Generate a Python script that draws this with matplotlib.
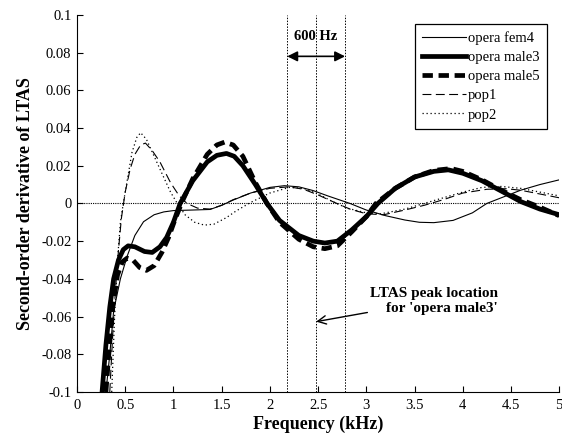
"""
Second-order derivative of LTAS for opera and pop singers.
"""
import matplotlib
matplotlib.use('Agg')
import matplotlib.pyplot as plt
from matplotlib import rcParams
from matplotlib.ticker import FuncFormatter

rcParams['font.family'] = 'Liberation Serif'
rcParams['font.size'] = 10
rcParams['axes.unicode_minus'] = False

# curves (kHz, value)
fem4_x = [0.30, 0.34, 0.38, 0.45, 0.52, 0.60, 0.69, 0.80, 0.90, 1.00, 1.20, 1.38, 1.50,
          1.62, 1.80, 2.00, 2.15, 2.30, 2.45, 2.60, 2.83, 3.00, 3.20, 3.40, 3.55, 3.70,
          3.90, 4.10, 4.25, 4.40, 4.60, 4.80, 5.00]
fem4_y = [-0.100, -0.080, -0.057, -0.040, -0.028, -0.017, -0.0097, -0.006, -0.0045, -0.0038,
          -0.0035, -0.0032, -0.001, 0.0018, 0.0055, 0.0085, 0.0094, 0.0088, 0.0068, 0.0040,
          0.0, -0.0035, -0.0065, -0.0088, -0.0100, -0.0102, -0.0090, -0.0050, 0.0, 0.0030,
          0.0070, 0.0100, 0.0125]

male3_x = [0.26, 0.30, 0.34, 0.38, 0.43, 0.48, 0.53, 0.60, 0.70, 0.78, 0.86, 0.93, 1.00,
           1.07, 1.20, 1.35, 1.45, 1.55, 1.63, 1.72, 1.85, 1.97, 2.10, 2.30, 2.45, 2.57,
           2.70, 2.85, 3.00, 3.12, 3.30, 3.50, 3.70, 3.85, 4.00, 4.20, 4.42, 4.60, 4.80, 5.00]
male3_y = [-0.100, -0.075, -0.055, -0.040, -0.030, -0.0245, -0.0225, -0.023, -0.0255, -0.026,
           -0.023, -0.018, -0.010, 0.0, 0.012, 0.022, 0.0255, 0.0265, 0.025, 0.020, 0.010,
           0.0, -0.009, -0.017, -0.020, -0.021, -0.020, -0.014, -0.007, 0.0, 0.008, 0.014,
           0.017, 0.0178, 0.016, 0.012, 0.006, 0.001, -0.003, -0.006]

male5_x = [0.30, 0.33, 0.37, 0.42, 0.47, 0.52, 0.58, 0.65, 0.72, 0.80, 0.88, 0.95, 1.02,
           1.10, 1.20, 1.35, 1.45, 1.53, 1.62, 1.72, 1.85, 1.97, 2.10, 2.30, 2.45, 2.57,
           2.70, 2.85, 3.00, 3.10, 3.30, 3.50, 3.70, 3.88, 4.00, 4.20, 4.40, 4.60, 4.80, 5.00]
male5_y = [-0.100, -0.080, -0.055, -0.038, -0.031, -0.029, -0.030, -0.034, -0.0355, -0.033,
           -0.026, -0.018, -0.008, 0.002, 0.013, 0.026, 0.031, 0.0325, 0.031, 0.025, 0.011,
           0.0, -0.010, -0.019, -0.023, -0.024, -0.0225, -0.015, -0.007, 0.0, 0.008, 0.014,
           0.0175, 0.0185, 0.017, 0.0125, 0.007, 0.002, -0.002, -0.0065]

pop1_x = [0.34, 0.37, 0.40, 0.43, 0.46, 0.50, 0.55, 0.60, 0.66, 0.71, 0.78, 0.86, 0.97,
          1.06, 1.14, 1.25, 1.38, 1.50, 1.62, 1.80, 2.00, 2.20, 2.35, 2.50, 2.65, 2.83,
          3.00, 3.18, 3.40, 3.60, 3.80, 4.00, 4.25, 4.45, 4.60, 4.80, 5.00]
pop1_y = [-0.100, -0.070, -0.045, -0.025, -0.008, 0.006, 0.018, 0.026, 0.031, 0.032, 0.028,
          0.022, 0.011, 0.004, 0.0, -0.0025, -0.003, -0.001, 0.002, 0.0055, 0.008, 0.0088,
          0.0075, 0.0045, 0.001, -0.003, -0.0055, -0.006, -0.0035, -0.001, 0.002, 0.0055,
          0.0075, 0.0078, 0.007, 0.005, 0.003]

pop2_x = [0.36, 0.39, 0.42, 0.45, 0.48, 0.52, 0.57, 0.62, 0.66, 0.72, 0.80, 0.88, 0.97,
          1.04, 1.12, 1.22, 1.32, 1.42, 1.55, 1.65, 1.80, 2.00, 2.20, 2.35, 2.50, 2.65,
          2.80, 3.00, 3.15, 3.40, 3.60, 3.80, 4.00, 4.20, 4.40, 4.60, 4.80, 5.00]
pop2_y = [-0.100, -0.060, -0.030, -0.010, 0.0, 0.012, 0.027, 0.035, 0.0375, 0.034, 0.025,
          0.016, 0.006, 0.0, -0.006, -0.010, -0.0115, -0.011, -0.0075, -0.004, 0.0005, 0.0055,
          0.0085, 0.008, 0.005, 0.001, -0.0025, -0.005, -0.0055, -0.003, 0.0, 0.003, 0.006,
          0.0085, 0.009, 0.008, 0.006, 0.004]

band_lines = [2.18, 2.48, 2.78]
x_ticks = [0, 0.5, 1, 1.5, 2, 2.5, 3, 3.5, 4, 4.5, 5]
y_ticks = [-0.1, -0.08, -0.06, -0.04, -0.02, 0, 0.02, 0.04, 0.06, 0.08, 0.1]

fig = plt.figure(figsize=(5.62, 4.37), dpi=100)
ax = fig.add_axes([0.137, 0.103, 0.858, 0.863])

ax.plot(fem4_x, fem4_y, color='black', lw=0.8, label='opera fem4')
ax.plot(male3_x, male3_y, color='black', lw=3.4, label='opera male3')
ax.plot(male5_x, male5_y, color='black', lw=3.4, linestyle=(0, (2.2, 1.2)), label='opera male5')
ax.plot(pop1_x, pop1_y, color='black', lw=0.8, linestyle=(0, (8, 4)), label='pop1')
ax.plot(pop2_x, pop2_y, color='black', lw=0.9, linestyle=(0, (1, 2.2)), label='pop2')

# zero line and the 600 Hz band
ax.axhline(0, color='black', lw=0.8, linestyle=(0, (1, 1)))
for bx in band_lines:
    ax.axvline(bx, color='black', lw=0.7, linestyle=(0, (1.5, 1.5)))

ax.annotate('', xy=(band_lines[0], 0.078), xytext=(band_lines[2], 0.078),
            arrowprops=dict(arrowstyle='<|-|>', color='black', lw=1.2,
                            mutation_scale=15, shrinkA=0, shrinkB=0))
ax.text(band_lines[1], 0.0885, '600 Hz', ha='center', va='center',
        fontsize=10.5, fontweight='bold')

ax.annotate("LTAS peak location\nfor 'opera male3'", xy=(band_lines[1], -0.0627),
            xytext=(3.04, -0.0515), ha='left', va='center', multialignment='right',
            fontsize=11, fontweight='bold',
            arrowprops=dict(arrowstyle='->', color='black', lw=1.0,
                            mutation_scale=15, shrinkA=0, shrinkB=0))

ax.set_xlim(0, 5)
ax.set_ylim(-0.1, 0.1)
ax.set_xticks(x_ticks)
ax.set_yticks(y_ticks)
fmt = FuncFormatter(lambda v, p: '%g' % round(v, 3))
ax.xaxis.set_major_formatter(fmt)
ax.yaxis.set_major_formatter(fmt)
ax.tick_params(direction='in', length=4, width=0.8, labelsize=10.5)
ax.tick_params(axis='x', pad=5)
ax.tick_params(axis='y', pad=4)
ax.spines['top'].set_visible(False)
ax.spines['right'].set_visible(False)

ax.set_xlabel('Frequency (kHz)', fontsize=13, fontweight='bold', labelpad=3)
ax.set_ylabel('Second-order derivative of LTAS', fontsize=13, fontweight='bold', labelpad=5)

leg = ax.legend(loc='upper right', bbox_to_anchor=(0.975, 0.975), fontsize=10.5,
                frameon=True, fancybox=False, edgecolor='black', framealpha=1,
                handlelength=3.0, handletextpad=0.15, labelspacing=0.4,
                borderpad=0.5, borderaxespad=0)
leg.get_frame().set_linewidth(0.9)

fig.savefig('out.png', dpi=100)
